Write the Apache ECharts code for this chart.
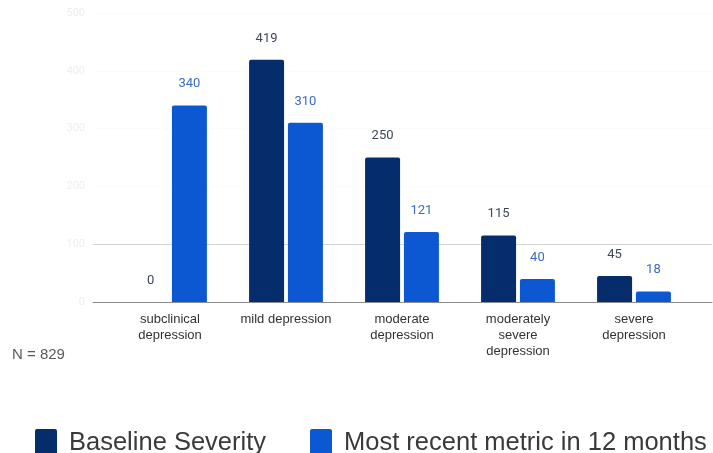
<!DOCTYPE html>
<html>
<head>
<meta charset="utf-8">
<script src="https://cdn.jsdelivr.net/npm/echarts@6/dist/echarts.min.js"></script>
<style>
  html, body { margin: 0; padding: 0; background: #fff; }
  #chart { width: 713px; height: 453px; }
</style>
</head>
<body>
<div id="chart"></div>
<script>
// Severity categories (PHQ-style bands)
const categories = [
  'subclinical\ndepression',
  'mild depression',
  'moderate\ndepression',
  'moderately\nsevere\ndepression',
  'severe\ndepression'
];
// Patient counts per band
const baselineSeverity = [0, 419, 250, 115, 45];
const recentMetric = [340, 310, 121, 40, 18];
// Value axis ticks
const yTicks = [0, 100, 200, 300, 400, 500];
const seriesNames = ['Baseline Severity', 'Most recent metric in 12 months'];
const sampleNote = 'N = 829';

const DARK = '#062d6b';
const BLUE = '#0c58d2';

const chart = echarts.init(document.getElementById('chart'), null, { renderer: 'canvas' });

const yMin = yTicks[0];
const yMax = yTicks[yTicks.length - 1];
const yStep = yTicks[1] - yTicks[0];

// square legend marker with slightly rounded corners
const legendIcon = 'path://M2,0 L20,0 Q22,0 22,2 L22,25 Q22,27 20,27 L2,27 Q0,27 0,25 L0,2 Q0,0 2,0 Z';

chart.setOption({
  animation: false,
  backgroundColor: '#ffffff',
  grid: [
    // bars
    { left: 112, right: 21, top: 13, bottom: 151 },
    // full-width frame for the baseline and gridlines
    { left: 93, right: 1, top: 13, bottom: 151 }
  ],
  legend: {
    data: seriesNames,
    left: 30,
    top: 424,
    itemWidth: 22,
    itemHeight: 27,
    itemGap: 44,
    icon: legendIcon,
    textStyle: {
      fontFamily: 'Liberation Sans, Arial, sans-serif',
      fontSize: 25.5,
      color: '#3a3a3a',
      padding: [0, 0, 0, 7]
    }
  },
  graphic: [{
    type: 'text',
    left: 12,
    top: 347,
    style: {
      text: sampleNote,
      fontFamily: 'Liberation Sans, Arial, sans-serif',
      fontSize: 15,
      fill: '#5a5a5a'
    }
  }],
  xAxis: [
    {
      type: 'category',
      gridIndex: 0,
      data: categories,
      axisLine: { show: false },
      axisTick: { show: false },
      axisLabel: {
        interval: 0,
        margin: 9,
        fontFamily: 'Liberation Sans, Arial, sans-serif',
        fontSize: 13,
        lineHeight: 16,
        color: '#333'
      }
    },
    {
      type: 'value',
      gridIndex: 1,
      min: 0,
      max: 1,
      axisLine: { show: true, onZero: false, lineStyle: { color: '#8c8c8c', width: 1 } },
      axisTick: { show: false },
      axisLabel: { show: false },
      splitLine: { show: false }
    }
  ],
  yAxis: [
    {
      type: 'value',
      gridIndex: 0,
      min: yMin,
      max: yMax,
      interval: yStep,
      show: false
    },
    {
      type: 'value',
      gridIndex: 1,
      min: yMin,
      max: yMax,
      interval: yStep,
      axisLine: { show: false },
      axisTick: { show: false },
      axisLabel: {
        margin: 8,
        fontFamily: 'Roboto, sans-serif',
        fontSize: 11,
        color: '#eeeeee'
      },
      splitLine: {
        show: true,
        lineStyle: {
          color: ['rgba(0,0,0,0)', '#d6d6d6', '#fbfbfb', '#fbfbfb', '#fbfbfb', '#fbfbfb'],
          width: 1
        }
      }
    }
  ],
  series: [
    {
      name: seriesNames[0],
      type: 'bar',
      xAxisIndex: 0,
      yAxisIndex: 0,
      data: baselineSeverity,
      barWidth: 35,
      barGap: '11%',
      itemStyle: { color: DARK, borderRadius: [2, 2, 0, 0] },
      label: {
        show: true,
        position: 'top',
        distance: 15,
        fontFamily: 'Roboto, sans-serif',
        fontSize: 13,
        color: '#3e4858'
      }
    },
    {
      name: seriesNames[1],
      type: 'bar',
      xAxisIndex: 0,
      yAxisIndex: 0,
      data: recentMetric,
      barWidth: 35,
      barGap: '11%',
      itemStyle: { color: BLUE, borderRadius: [2, 2, 0, 0] },
      label: {
        show: true,
        position: 'top',
        distance: 15,
        fontFamily: 'Roboto, sans-serif',
        fontSize: 13,
        color: '#3b6cc2'
      }
    }
  ]
});
</script>
</body>
</html>
